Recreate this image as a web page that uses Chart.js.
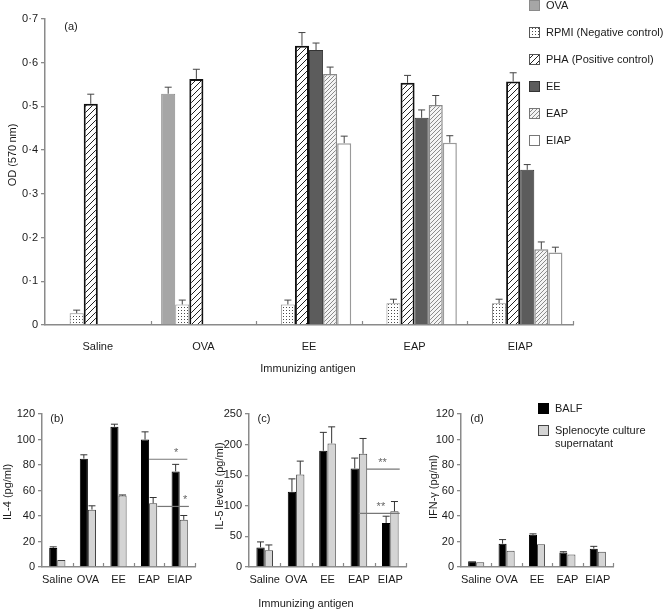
<!DOCTYPE html>
<html>
<head>
<meta charset="utf-8">
<script src="https://cdn.jsdelivr.net/npm/chart.js@4.4.0/dist/chart.umd.min.js"></script>
<style>
  body { margin: 0; background: #fff; }
  #wrap { position: relative; width: 668px; height: 611px; overflow: hidden; }
  canvas { position: absolute; }
</style>
</head>
<body>
<div id="wrap">
  <canvas id="chartA" width="668" height="382" style="left:0;top:0;width:668px;height:382px"></canvas>
  <canvas id="chartB" width="215" height="231" style="left:0;top:380px;width:215px;height:231px"></canvas>
  <canvas id="chartC" width="215" height="231" style="left:205px;top:380px;width:215px;height:231px"></canvas>
  <canvas id="chartD" width="248" height="231" style="left:420px;top:380px;width:248px;height:231px"></canvas>
</div>
<script>
// ---- data: panel (a), proliferation OD
const groups = ['Saline', 'OVA', 'EE', 'EAP', 'EIAP'];
const ovaA     = [null, 0.529, null, null, null];
const ovaErrA  = [null, 0.544, null, null, null];
const rpmiA    = [0.027, 0.047, 0.047, 0.050, 0.050];
const rpmiErrA = [0.034, 0.057, 0.057, 0.059, 0.059];
const phaA     = [0.506, 0.563, 0.639, 0.554, 0.557];
const phaErrA  = [0.528, 0.585, 0.669, 0.571, 0.577];
const eeA      = [null, null, 0.629, 0.474, 0.355];
const eeErrA   = [null, null, 0.645, 0.492, 0.367];
const eapA     = [null, null, 0.574, 0.503, 0.173];
const eapErrA  = [null, null, 0.590, 0.525, 0.190];
const eiapA    = [null, null, 0.416, 0.417, 0.166];
const eiapErrA = [null, null, 0.432, 0.433, 0.178];

// ---- data: panels (b)-(d), cytokines
const il4Balf      = [15, 85, 110, 100, 75];
const il4BalfErr   = [15.8, 88, 112, 106, 80.5];
const il4Spleno    = [5.5, 45, 56, 50, 37];
const il4SplenoErr = [null, 48, 56.5, 54.5, 40.4];

const il5Balf      = [32, 123, 190, 161, 72];
const il5BalfErr   = [41, 144, 220, 178, 83];
const il5Spleno    = [27.5, 151, 202, 185, 91];
const il5SplenoErr = [36, 173, 229, 210, 107];

const ifnBalf      = [4.5, 18.3, 25.2, 11.3, 14.4];
const ifnBalfErr   = [null, 21.5, 26, 12, 16.2];
const ifnSpleno    = [3.7, 12.8, 17.8, 9.8, 12];
const ifnSplenoErr = [null, null, null, null, null];

// significance bars (category units for ends)
const sigB = [
  { value: 84.5, from: 3.0, to: 4.25, star: '*', at: 3.88 },
  { value: 47.5, from: 3.27, to: 4.3, star: '*', at: 4.18 }
];
const sigC = [
  { value: 160, from: 3.25, to: 4.3, star: '**', at: 3.75 },
  { value: 87.5, from: 3.0, to: 4.3, star: '**', at: 3.7 }
];

Chart.defaults.font.family = '"Liberation Sans", Arial, Helvetica, sans-serif';
Chart.defaults.font.size = 11;
Chart.defaults.color = '#1a1a1a';
Chart.defaults.animation = false;

// fill patterns
function makePattern(size, bg, draw) {
  const c = document.createElement('canvas');
  c.width = size; c.height = size;
  const g = c.getContext('2d');
  g.fillStyle = bg;
  g.fillRect(0, 0, size, size);
  draw(g);
  return g.createPattern(c, 'repeat');
}
const dotFill = makePattern(3, '#ffffff', g => {
  g.fillStyle = '#4a4a4a';
  g.fillRect(1, 1, 1, 1);
});
const hatchFill = makePattern(6, '#ffffff', g => {
  g.strokeStyle = '#222';
  g.lineWidth = 1;
  g.beginPath();
  g.moveTo(0, 6); g.lineTo(6, 0);
  g.moveTo(-1, 1); g.lineTo(1, -1);
  g.moveTo(5, 7); g.lineTo(7, 5);
  g.stroke();
});
const speckFill = makePattern(4, '#f4f4f4', g => {
  g.fillStyle = '#8a8a8a';
  g.fillRect(0, 1, 1, 1);
  g.fillRect(1, 0, 1, 1);
  g.fillRect(2, 3, 1, 1);
  g.fillRect(3, 2, 1, 1);
});

const decor = {
  id: 'decor',
  afterDatasetsDraw(chart, args, opts) {
    const ctx = chart.ctx;
    const xs = chart.scales.x, ys = chart.scales.y;
    ctx.save();
    // error bars (upward only)
    chart.data.datasets.forEach((ds, di) => {
      if (!ds.err) return;
      const meta = chart.getDatasetMeta(di);
      meta.data.forEach((bar, i) => {
        const e = ds.err[i];
        if (e == null || ds.data[i] == null) return;
        const yTop = ys.getPixelForValue(e);
        ctx.strokeStyle = opts.errColor || '#444';
        ctx.lineWidth = 1;
        ctx.beginPath();
        ctx.moveTo(bar.x, bar.y);
        ctx.lineTo(bar.x, yTop);
        ctx.moveTo(bar.x - 3.5, yTop);
        ctx.lineTo(bar.x + 3.5, yTop);
        ctx.stroke();
      });
    });
    // inner ticks on category axis
    const n = chart.data.labels.length;
    const w = (xs.right - xs.left) / n;
    ctx.strokeStyle = '#888';
    ctx.lineWidth = 1.2;
    for (let i = 1; i <= n; i++) {
      const x = Math.round(xs.left + i * w) + 0.5;
      ctx.beginPath();
      ctx.moveTo(x, ys.bottom);
      ctx.lineTo(x, ys.bottom - 4);
      ctx.stroke();
    }
    // significance lines
    (opts.sig || []).forEach(s => {
      const y = ys.getPixelForValue(s.value);
      ctx.strokeStyle = '#777';
      ctx.lineWidth = 1.2;
      ctx.beginPath();
      ctx.moveTo(xs.getPixelForValue(s.from), y);
      ctx.lineTo(xs.getPixelForValue(s.to), y);
      ctx.stroke();
      ctx.fillStyle = '#666';
      ctx.font = '11px "Liberation Sans", Arial, sans-serif';
      ctx.textAlign = 'center';
      ctx.textBaseline = 'alphabetic';
      ctx.fillText(s.star, xs.getPixelForValue(s.at), y - 3);
    });
    // legend
    (opts.legend || []).forEach(it => {
      ctx.fillStyle = it.fill;
      ctx.fillRect(it.x, it.y, 11, 11);
      ctx.strokeStyle = it.stroke;
      ctx.lineWidth = 1;
      ctx.strokeRect(it.x + 0.5, it.y + 0.5, 10, 10);
      ctx.fillStyle = '#1a1a1a';
      ctx.font = '11px "Liberation Sans", Arial, sans-serif';
      ctx.textAlign = 'left';
      ctx.textBaseline = 'middle';
      it.lines.forEach((t, k) => ctx.fillText(t, it.x + 17, it.y + 6 + k * 12.5));
    });
    // free texts: panel letters and axis titles
    (opts.texts || []).forEach(t => {
      ctx.save();
      ctx.translate(t.x, t.y);
      if (t.rot) ctx.rotate(-Math.PI / 2);
      ctx.fillStyle = '#1a1a1a';
      ctx.font = (t.size || 11) + 'px "Liberation Sans", Arial, sans-serif';
      ctx.textAlign = 'center';
      ctx.textBaseline = 'middle';
      ctx.fillText(t.text, 0, 0);
      ctx.restore();
    });
    ctx.restore();
  }
};

function axes(yMax, yStep, yWidth, xHeight, xPad, fmt) {
  return {
    x: {
      grid: { display: false, drawTicks: false },
      border: { display: true, color: '#8a8a8a', width: 1.5 },
      ticks: { padding: xPad, maxRotation: 0, autoSkip: false },
      afterFit: s => { s.height = xHeight; }
    },
    y: {
      min: 0, max: yMax,
      grid: { drawOnChartArea: false, drawTicks: true, tickLength: 4, color: '#8a8a8a', lineWidth: 1.3 },
      border: { display: true, color: '#8a8a8a', width: 1.5 },
      ticks: { stepSize: yStep, padding: 3, callback: fmt || (v => v) },
      afterFit: s => { s.width = yWidth; }
    }
  };
}

// ---- panel (a)
new Chart(document.getElementById('chartA'), {
  type: 'bar',
  data: {
    labels: groups,
    datasets: [
      { label: 'OVA', data: ovaA, err: ovaErrA, backgroundColor: '#a6a6a6', borderColor: '#8a8a8a', borderWidth: 1 },
      { label: 'RPMI (Negative control)', data: rpmiA, err: rpmiErrA, backgroundColor: dotFill, borderColor: '#8a8a8a', borderWidth: 1 },
      { label: 'PHA (Positive control)', data: phaA, err: phaErrA, backgroundColor: hatchFill, borderColor: '#111', borderWidth: 2 },
      { label: 'EE', data: eeA, err: eeErrA, backgroundColor: '#5c5c5c', borderColor: '#333', borderWidth: 1 },
      { label: 'EAP', data: eapA, err: eapErrA, backgroundColor: speckFill, borderColor: '#8a8a8a', borderWidth: 1.5 },
      { label: 'EIAP', data: eiapA, err: eiapErrA, backgroundColor: '#ffffff', borderColor: '#9a9a9a', borderWidth: 1.5 }
    ]
  },
  options: {
    responsive: false,
    layout: { padding: { left: 0, right: 95, top: 19, bottom: 0 } },
    datasets: { bar: { categoryPercentage: 0.8, barPercentage: 1.0 } },
    scales: axes(0.7, 0.1, 45, 57, 15, v => v === 0 ? '0' : v.toFixed(1).replace('.', '\u00b7')),
    plugins: {
      legend: { display: false },
      tooltip: { enabled: false },
      decor: {
        legend: [
          { x: 529, y: 0, fill: '#a6a6a6', stroke: '#8a8a8a', lines: ['OVA'] },
          { x: 529, y: 27, fill: dotFill, stroke: '#555', lines: ['RPMI (Negative control)'] },
          { x: 529, y: 54, fill: hatchFill, stroke: '#555', lines: ['PHA (Positive control)'] },
          { x: 529, y: 81, fill: '#5c5c5c', stroke: '#333', lines: ['EE'] },
          { x: 529, y: 108, fill: speckFill, stroke: '#777', lines: ['EAP'] },
          { x: 529, y: 135, fill: '#ffffff', stroke: '#777', lines: ['EIAP'] }
        ],
        texts: [
          { text: '(a)', x: 71, y: 27 },
          { text: 'OD (570\u2009nm)', x: 13, y: 155, rot: true },
          { text: 'Immunizing antigen', x: 308, y: 369 }
        ]
      }
    }
  },
  plugins: [decor]
});

// ---- panels (b)-(d)
function cytokine(id, balf, balfErr, spleno, splenoErr, yMax, yStep, yWidth, padRight, extra) {
  return new Chart(document.getElementById(id), {
    type: 'bar',
    data: {
      labels: groups,
      datasets: [
        { label: 'BALF', data: balf, err: balfErr, backgroundColor: '#000', borderColor: '#000', borderWidth: 1 },
        { label: 'Splenocyte culture supernatant', data: spleno, err: splenoErr, backgroundColor: '#d4d4d4', borderColor: '#444', borderWidth: 1 }
      ]
    },
    options: {
      responsive: false,
      layout: { padding: { left: 0, right: padRight, top: 34, bottom: 0 } },
      datasets: { bar: { categoryPercentage: 0.53, barPercentage: 1.0 } },
      scales: axes(yMax, yStep, yWidth, 44, 6),
      plugins: {
        legend: { display: false },
        tooltip: { enabled: false },
        decor: Object.assign({ errColor: '#333' }, extra)
      }
    },
    plugins: [decor]
  });
}

cytokine('chartB', il4Balf, il4BalfErr, il4Spleno, il4SplenoErr, 120, 20, 42, 20, {
  sig: sigB,
  texts: [
    { text: '(b)', x: 57, y: 39 },
    { text: 'IL-4 (pg/ml)', x: 8, y: 112, rot: true }
  ]
});

cytokine('chartC', il5Balf, il5BalfErr, il5Spleno, il5SplenoErr, 250, 50, 44, 14, {
  sig: sigC,
  texts: [
    { text: '(c)', x: 59, y: 39 },
    { text: 'IL-5 levels (pg/ml)', x: 15, y: 106, rot: true },
    { text: 'Immunizing antigen', x: 101, y: 224 }
  ]
});

cytokine('chartD', ifnBalf, ifnBalfErr, ifnSpleno, ifnSplenoErr, 120, 20, 41, 55, {
  legend: [
    { x: 118, y: 23, fill: '#000', stroke: '#000', lines: ['BALF'] },
    { x: 118, y: 45, fill: '#d4d4d4', stroke: '#444', lines: ['Splenocyte culture', 'supernatant'] }
  ],
  texts: [
    { text: '(d)', x: 57, y: 39 },
    { text: 'IFN-\u03b3 (pg/ml)', x: 14, y: 107, rot: true }
  ]
});
</script>
</body>
</html>
